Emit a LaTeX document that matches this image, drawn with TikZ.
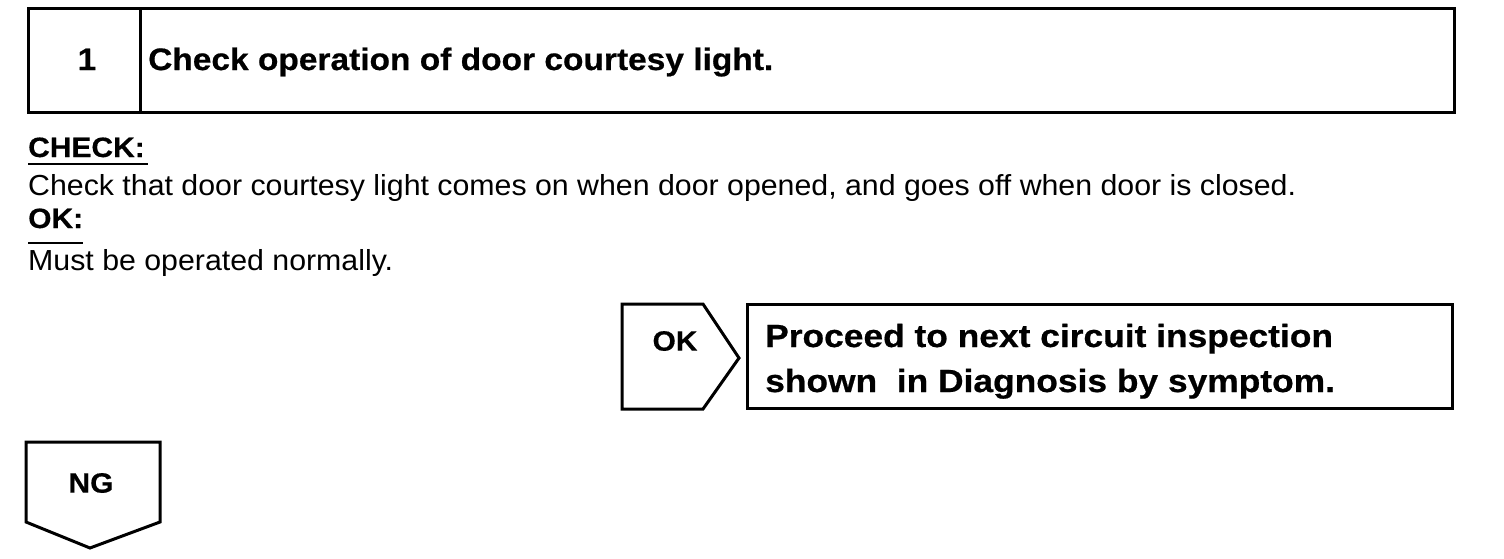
\documentclass[tikz,border=0pt]{standalone}
\usepackage{fontspec}
\setmainfont{Liberation Sans}
\newfontfamily\fbody[FakeStretch=1.045]{Liberation Sans}
\newfontfamily\ftitle[FakeStretch=1.08,BoldFeatures={FakeBold=0.6}]{Liberation Sans}
\newfontfamily\fproc[FakeStretch=1.105,BoldFeatures={FakeBold=0.6}]{Liberation Sans}
\newfontfamily\flab[FakeStretch=1.07,BoldFeatures={FakeBold=0.5}]{Liberation Sans}
\begin{document}
\begin{tikzpicture}[x=1pt,y=-1pt,
  frame/.style={draw=black,line width=3pt,line join=miter},
  uline/.style={draw=black,line width=2pt},
  txt/.style={inner sep=0pt,anchor=base west},
  hd/.style={font=\ftitle\fontsize{31}{36}\selectfont\bfseries},
  body/.style={font=\fbody\fontsize{29}{34}\selectfont},
  lbl/.style={font=\flab\fontsize{28}{33}\selectfont\bfseries},
  big/.style={font=\fproc\fontsize{32}{40}\selectfont\bfseries}]
\useasboundingbox (0,0) rectangle (1504,558);
% top box
\draw[frame] (28,8) rectangle (1454,112);
\draw[frame] (140,8) -- (140,112);
\node[hd,inner sep=0pt,anchor=base] (num) at (87,70) {1};
\node[hd,txt] (title) at (148,70) {Check operation of door courtesy light.};
% check text
\node[lbl,txt] (chk) at (28,157) {CHECK:};
\draw[uline] (28,164) -- (148,164);
\node[body,txt] (chkt) at (28,195) {Check that door courtesy light comes on when door opened, and goes off when door is closed.};
\node[lbl,txt] (ok) at (28,228) {OK:};
\draw[uline] (28,243) -- (83,243);
\node[body,txt] (okt) at (28,270) {Must be operated normally.};
% OK pentagon
\draw[frame] (622,304) -- (703,304) -- (739,358) -- (703,409) -- (622,409) -- cycle;
\node[lbl,inner sep=0pt] (okl) at (675,341) {OK};
% proceed box
\draw[frame] (747,304) rectangle (1452,408);
\node[big,txt] (p1) at (765,347) {Proceed to next circuit inspection};
\node[big,txt] (p2) at (765,392) {shown\ \ in Diagnosis by symptom.};
% NG
\draw[frame] (26,442) -- (160,442) -- (160,522) -- (90,548) -- (26,522) -- cycle;
\node[lbl,inner sep=0pt] (ng) at (91,483) {NG};
\end{tikzpicture}
\end{document}
